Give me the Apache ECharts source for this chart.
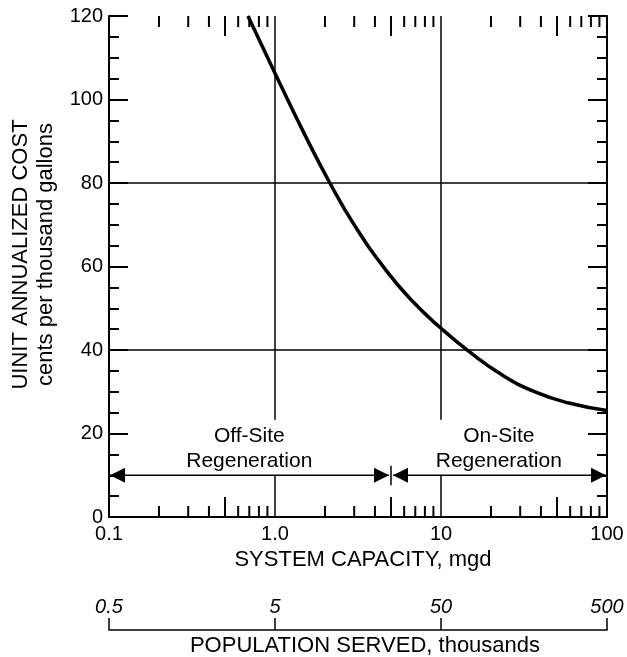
<!DOCTYPE html>
<html>
<head>
<meta charset="utf-8">
<script src="https://cdn.jsdelivr.net/npm/echarts@6/dist/echarts.min.js"></script>
<style>
  html, body { margin: 0; padding: 0; background: #fff; }
  #chart { width: 627px; height: 657px; }
</style>
</head>
<body>
<div id="chart"></div>
<script>
// curve: system capacity (mgd) vs unit cost (cents / 1000 gal)
var capacity = [0.687, 1.0, 1.48, 2.14, 3.02, 4.68, 6.76, 10, 14.8, 23.4, 37.2, 58.9, 100];
var cost     = [120, 106.3, 92.3, 80, 69.8, 59.0, 51.6, 45.2, 39.6, 34.0, 29.9, 27.3, 25.5];

var xTickLabels = ['0.1', '1.0', '10', '100'];
var popTickLabels = ['0.5', '5', '50', '500'];
var logMinorTicks = [0.2, 0.3, 0.4, 0.5, 0.6, 0.7, 0.8, 0.9,
                     2, 3, 4, 5, 6, 7, 8, 9,
                     20, 30, 40, 50, 60, 70, 80, 90];

var gridLinesY = [40, 80];
var gridLinesX = [1, 10];
var arrowLevel = 10;
var regionSplit = 5;
var arrowSegments = [[0.1, 5], [5, 100]];
var regionNames = ['Off-Site\nRegeneration', 'On-Site\nRegeneration'];
var regionAnchors = [[0.7, 16.3], [22.3, 16.3]];

var FONT = 'Liberation Sans';
var chart = echarts.init(document.getElementById('chart'));

function lineItem(x1, y1, x2, y2) {
  return [{coord: [x1, y1]}, {coord: [x2, y2]}];
}

var markData = [];
gridLinesY.forEach(function (y) { markData.push(lineItem(0.1, y, 100, y)); });
gridLinesX.forEach(function (x) {
  markData.push(lineItem(x, 0, x, arrowLevel));
  markData.push(lineItem(x, 23.3, x, 120));
});
markData.push(lineItem(regionSplit, 7.6, regionSplit, 12.3));

var black = {color: '#000', width: 2};

var option = {
  animation: false,
  backgroundColor: '#fff',
  grid: [
    {left: 109, right: 20, top: 16, bottom: 140, containLabel: false, outerBoundsMode: 'none'},
    {left: 109, right: 20, top: 629, height: 1, containLabel: false, outerBoundsMode: 'none'}
  ],
  xAxis: [
    {
      type: 'log', logBase: 10, min: 0.1, max: 100, gridIndex: 0, position: 'bottom',
      axisLine: {show: true, lineStyle: black},
      axisTick: {show: false},
      splitLine: {show: false},
      axisLabel: {
        margin: 7, fontFamily: FONT, fontSize: 20, color: '#000',
        formatter: function (v, i) { return xTickLabels[i]; }
      },
      name: 'SYSTEM CAPACITY, mgd', nameLocation: 'middle', nameGap: 32,
      nameTextStyle: {color: '#000', fontFamily: FONT, fontSize: 22, padding: [0, 0, 0, 10]}
    },
    {
      type: 'log', logBase: 10, min: 0.1, max: 100, gridIndex: 0, position: 'top',
      axisLine: {show: true, lineStyle: black},
      axisTick: {show: false}, axisLabel: {show: false}, splitLine: {show: false}
    },
    {
      type: 'log', logBase: 10, min: 0.1, max: 100, gridIndex: 1, position: 'bottom',
      axisLine: {show: true, lineStyle: {color: '#000', width: 1.5}},
      axisTick: {show: true, inside: true, length: 12, lineStyle: {color: '#000', width: 1.5}},
      splitLine: {show: false},
      axisLabel: {
        inside: true, margin: 13, fontFamily: FONT, fontSize: 20, fontStyle: 'italic', color: '#000',
        formatter: function (v, i) { return popTickLabels[i]; }
      },
      name: 'POPULATION SERVED, thousands', nameLocation: 'middle', nameGap: 5,
      nameTextStyle: {color: '#000', fontFamily: FONT, fontSize: 22, verticalAlign: 'top', padding: [0, 0, 0, 14]}
    }
  ],
  yAxis: [
    {
      type: 'value', min: 0, max: 120, interval: 20, gridIndex: 0, position: 'left',
      axisLine: {show: true, lineStyle: black},
      axisTick: {show: true, inside: true, length: 19, lineStyle: black},
      minorTick: {show: true, splitNumber: 4, length: 10, lineStyle: black},
      splitLine: {show: false},
      axisLabel: {margin: 6, fontFamily: FONT, fontSize: 20, color: '#000'},
      name: 'UINIT ANNUALIZED COST\ncents per thousand gallons',
      nameLocation: 'middle', nameGap: 51, nameRotate: 90,
      nameTextStyle: {
        color: '#000', fontFamily: FONT, fontSize: 22, lineHeight: 25, align: 'center',
        padding: [0, 0, 0, 24]
      }
    },
    {
      type: 'value', min: 0, max: 120, interval: 20, gridIndex: 0, position: 'right',
      axisLine: {show: true, lineStyle: black},
      axisTick: {show: true, inside: true, length: 19, lineStyle: black},
      minorTick: {show: true, splitNumber: 4, length: 10, lineStyle: black},
      splitLine: {show: false}, axisLabel: {show: false}
    },
    {type: 'value', gridIndex: 1, show: false, min: 0, max: 1}
  ],
  series: [
    {
      type: 'line', xAxisIndex: 0, yAxisIndex: 0,
      data: capacity.map(function (c, i) { return [c, cost[i]]; }),
      showSymbol: false, symbol: 'none', smooth: 0.5, clip: true,
      lineStyle: {color: '#000', width: 3.5},
      markLine: {
        silent: true, animation: false, symbol: 'none',
        label: {show: false},
        lineStyle: {color: '#000', width: 1.5, type: 'solid'},
        emphasis: {disabled: true},
        data: markData
      },
      z: 3
    },
    {
      // log minor ticks on the top and bottom frame
      type: 'custom', xAxisIndex: 0, yAxisIndex: 0,
      data: logMinorTicks.map(function (v) { return [v, 0]; }),
      renderItem: function (params, api) {
        var v = api.value(0);
        var mant = Math.round(v / Math.pow(10, Math.floor(Math.log10(v) + 1e-9)));
        var len = mant === 5 ? 20 : 11;
        var pb = api.coord([v, 0]);
        var pt = api.coord([v, 120]);
        var st = {stroke: '#000', lineWidth: 2};
        return {
          type: 'group',
          children: [
            {type: 'line', shape: {x1: pb[0], y1: pb[1], x2: pb[0], y2: pb[1] - len}, style: st},
            {type: 'line', shape: {x1: pt[0], y1: pt[1], x2: pt[0], y2: pt[1] + len}, style: st}
          ]
        };
      },
      silent: true, z: 4
    },
    {
      // double-headed range arrows
      type: 'custom', xAxisIndex: 0, yAxisIndex: 0,
      data: arrowSegments,
      renderItem: function (params, api) {
        var a = api.coord([api.value(0), arrowLevel]);
        var b = api.coord([api.value(1), arrowLevel]);
        var gapA = params.dataIndex === 0 ? 1 : 2;
        var gapB = params.dataIndex === 0 ? 2 : 1;
        var ax = a[0] + gapA, bx = b[0] - gapB, y = a[1];
        var L = 15, H = 7.5;
        return {
          type: 'group',
          children: [
            {type: 'line', shape: {x1: ax, y1: y, x2: bx, y2: y}, style: {stroke: '#000', lineWidth: 1.5}},
            {type: 'polygon', shape: {points: [[ax, y], [ax + L, y - H], [ax + L, y + H]]}, style: {fill: '#000'}},
            {type: 'polygon', shape: {points: [[bx, y], [bx - L, y - H], [bx - L, y + H]]}, style: {fill: '#000'}}
          ]
        };
      },
      silent: true, z: 5
    },
    {
      type: 'custom', xAxisIndex: 0, yAxisIndex: 0,
      data: regionAnchors,
      renderItem: function (params, api) {
        var p = api.coord([api.value(0), api.value(1)]);
        return {
          type: 'text',
          x: p[0], y: p[1],
          style: {
            text: regionNames[params.dataIndex],
            fill: '#000', fontFamily: FONT, fontSize: 21, lineHeight: 25,
            align: 'center', verticalAlign: 'middle'
          }
        };
      },
      silent: true, z: 5
    }
  ]
};

chart.setOption(option);
</script>
</body>
</html>
